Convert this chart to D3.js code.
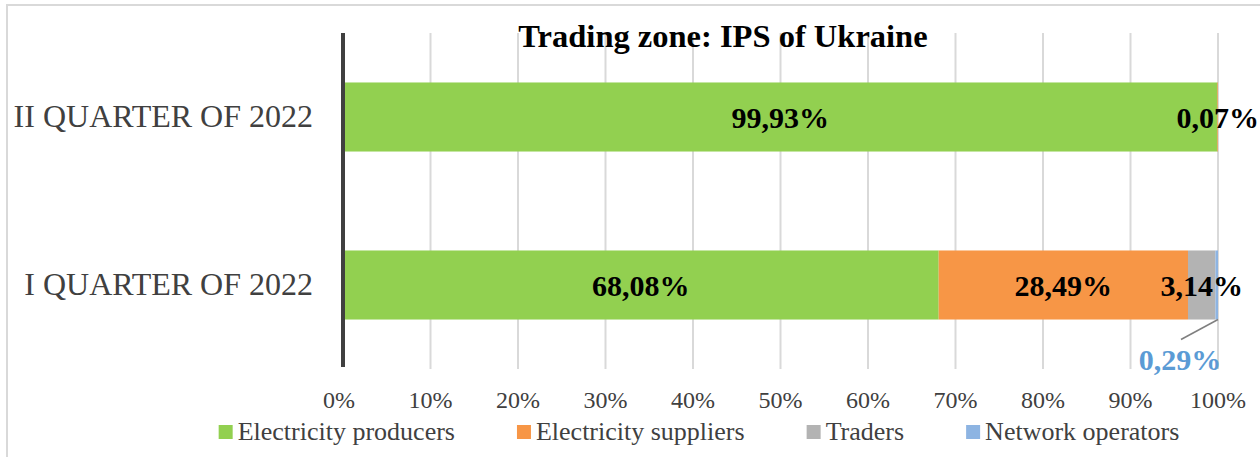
<!DOCTYPE html>
<html>
<head>
<meta charset="utf-8">
<script src="https://cdn.jsdelivr.net/npm/d3@7"></script>
<style>
  html, body { margin: 0; padding: 0; background: #fff; }
  svg text { font-family: "Liberation Serif", "Times New Roman", serif; }
</style>
</head>
<body>
<div id="chart"></div>
<script>
// Data
var categories = ["II QUARTER OF 2022", "I QUARTER OF 2022"];
var seriesNames = ["Electricity producers", "Electricity suppliers", "Traders", "Network operators"];
var producers = [99.93, 68.08];
var suppliers = [0.07, 28.49];
var traders = [0, 3.14];
var networkOps = [0, 0.29];
var tickValues = [0, 10, 20, 30, 40, 50, 60, 70, 80, 90, 100];
var colors = ["#92d050", "#f79646", "#b3b3b3", "#8db4e2"];

var width = 1260, height = 457;
var margins = { top: 33, right: 42, bottom: 88, left: 343 };
var chartWidth = width - margins.left - margins.right;
var chartHeight = height - margins.top - margins.bottom;

var svg = d3.select("#chart").append("svg")
  .attr("width", width)
  .attr("height", height);

// Outer frame
svg.append("rect")
  .attr("x", 7).attr("y", 5)
  .attr("width", width + 10).attr("height", height + 10)
  .attr("fill", "none")
  .attr("stroke", "#d9d9d9")
  .attr("stroke-width", 2);

var chart = svg.append("g")
  .attr("transform", `translate(${margins.left},${margins.top})`);

var xScale = d3.scaleLinear().domain([0, 100]).range([0, chartWidth]);
var yScale = d3.scaleBand().domain(categories).range([0, chartHeight])
  .paddingInner(0.589).paddingOuter(0.2945);

// Grid
chart.append("g")
  .attr("class", "x grid")
  .selectAll("line")
  .data(tickValues.slice(1))
  .enter().append("line")
  .attr("x1", d => xScale(d)).attr("x2", d => xScale(d))
  .attr("y1", 0).attr("y2", chartHeight)
  .attr("stroke", "#d9d9d9")
  .attr("stroke-width", 2);

// Stack data
var rows = categories.map((c, i) => ({
  name: c,
  "Electricity producers": producers[i],
  "Electricity suppliers": suppliers[i],
  "Traders": traders[i],
  "Network operators": networkOps[i]
}));
var stacked = d3.stack().keys(seriesNames)(rows);

var layers = chart.selectAll("g.layer")
  .data(stacked)
  .enter().append("g")
  .attr("class", "layer")
  .attr("fill", (d, i) => colors[i]);

layers.selectAll("rect")
  .data(d => d.map(p => ({ p: p, key: d.key })))
  .enter().append("rect")
  .attr("x", d => xScale(d.p[0]))
  .attr("y", d => yScale(d.p.data.name))
  .attr("width", d => xScale(d.p[1]) - xScale(d.p[0]))
  .attr("height", yScale.bandwidth());

// Y axis line
chart.append("line")
  .attr("x1", 0).attr("x2", 0)
  .attr("y1", 0).attr("y2", chartHeight - 2)
  .attr("stroke", "#404040")
  .attr("stroke-width", 4);

// Category labels
chart.append("g")
  .selectAll("text")
  .data(categories)
  .enter().append("text")
  .attr("x", -30)
  .attr("y", d => yScale(d) + yScale.bandwidth() / 2 + 9.5)
  .attr("text-anchor", "end")
  .attr("font-size", 32)
  .attr("fill", "#404040")
  .text(d => d);

// Tick labels
chart.append("g")
  .selectAll("text")
  .data(tickValues)
  .enter().append("text")
  .attr("x", d => xScale(d) - (d === 0 ? 4 : 0))
  .attr("y", chartHeight + 39)
  .attr("text-anchor", "middle")
  .attr("font-size", 24)
  .attr("fill", "#404040")
  .text(d => d + "%");

var fmt = v => v.toFixed(2).replace(".", ",") + "%";

// Data labels
stacked.forEach(function(layer, li) {
  layer.forEach(function(p) {
    var v = p[1] - p[0];
    if (v <= 0) return;
    var cx = xScale((p[0] + p[1]) / 2);
    var cy = yScale(p.data.name) + yScale.bandwidth() / 2;
    if (layer.key === "Network operators") {
      // label outside with leader line
      var bottom = yScale(p.data.name) + yScale.bandwidth();
      chart.append("line")
        .attr("x1", xScale(p[1])).attr("y1", bottom)
        .attr("x2", xScale(p[1]) - 37).attr("y2", bottom + 20)
        .attr("stroke", "#7f7f7f")
        .attr("stroke-width", 1.5);
      chart.append("text")
        .attr("x", xScale(p[1]) - 38)
        .attr("y", bottom + 50)
        .attr("text-anchor", "middle")
        .attr("font-size", 30)
        .attr("font-weight", "bold")
        .attr("fill", "#5b9bd5")
        .text(fmt(v));
    } else {
      chart.append("text")
        .attr("x", cx)
        .attr("y", cy + 11)
        .attr("text-anchor", "middle")
        .attr("font-size", 30)
        .attr("font-weight", "bold")
        .attr("fill", "#000")
        .text(fmt(v));
    }
  });
});

// Title
svg.append("text")
  .attr("x", 723)
  .attr("y", 47)
  .attr("text-anchor", "middle")
  .attr("font-size", 32.5)
  .attr("font-weight", "bold")
  .attr("fill", "#000")
  .text("Trading zone: IPS of Ukraine");

// Legend
var legend = svg.append("g").attr("class", "legend");
var items = legend.selectAll("g")
  .data(seriesNames)
  .enter().append("g");
items.append("rect")
  .attr("width", 14).attr("height", 14)
  .attr("y", 425)
  .attr("fill", (d, i) => colors[i]);
items.append("text")
  .attr("x", 19)
  .attr("y", 440)
  .attr("font-size", 26)
  .attr("fill", "#404040")
  .text(d => d);

var gap = 62, pos = 0, offsets = [];
items.each(function() {
  offsets.push(pos);
  pos += 19 + this.querySelector("text").getComputedTextLength() + gap;
});
var totalW = pos - gap;
var startX = 699 - totalW / 2;
items.attr("transform", (d, i) => `translate(${startX + offsets[i]},0)`);
</script>
</body>
</html>
